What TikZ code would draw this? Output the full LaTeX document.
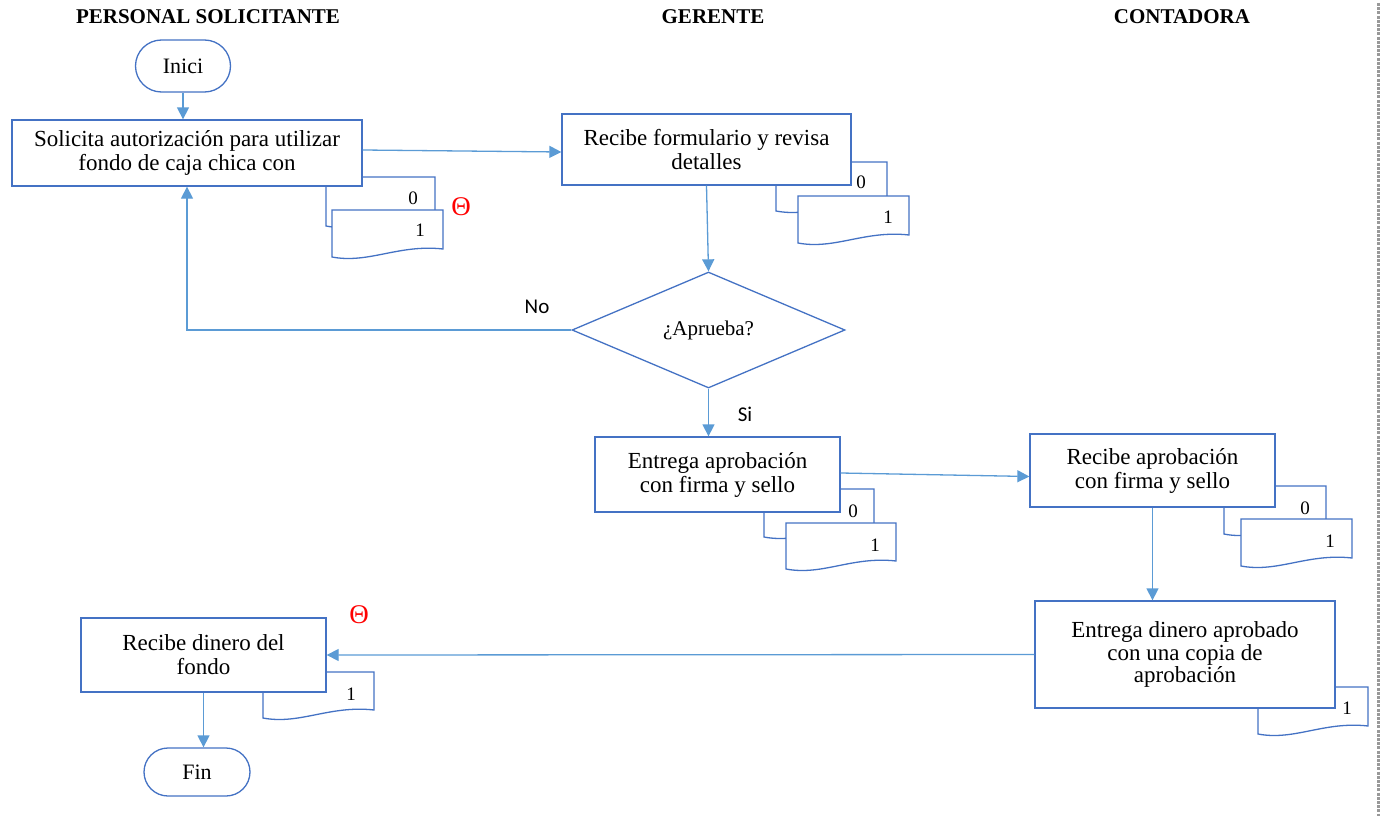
\documentclass[tikz,border=0pt]{standalone}
\usepackage{fontspec}
\setmainfont{Liberation Serif}
\newfontfamily\calibri{Carlito}
\usetikzlibrary{arrows.meta,shapes.geometric}
\definecolor{boxblue}{HTML}{4472C4}
\definecolor{arrblue}{HTML}{5B9BD5}
\newcommand\docpath[4]{%
  \filldraw[docst] ({#1},{#2}) -- ({#3},{#2}) -- ({#3},{#4-8})
    .. controls ({#1+0.6*(#3-#1)},{#4-13}) and ({#1+0.33*(#3-#1)},{#4+7}) .. ({#1},{#4}) -- cycle;}
\tikzset{
  box/.style={draw=boxblue, line width=1.3pt, fill=white, inner sep=0pt, align=center,
    font=\fontsize{23}{24}\selectfont},
  term/.style={draw=boxblue, line width=1.3pt, fill=white, inner sep=0pt,
    font=\fontsize{22}{24}\selectfont},
  dec/.style={draw=boxblue, line width=1.3pt, fill=white, shape=diamond, inner sep=0pt,
    font=\fontsize{21}{24}\selectfont},
  docst/.style={draw=boxblue, line width=1.3pt, fill=white},
  num/.style={font=\fontsize{19}{20}\selectfont, inner sep=0pt},
  theta/.style={text=red, font=\fontsize{27}{28}\selectfont, inner sep=0pt},
  title/.style={font=\fontsize{21}{22}\selectfont\bfseries, inner sep=0pt},
  lab/.style={font=\calibri\fontsize{21}{22}\selectfont, inner sep=0pt},
  arr/.style={draw=arrblue, line width=1.3pt, -{Triangle[length=12pt,width=12pt]}},
}
\begin{document}
\begin{tikzpicture}[x=1pt,y=-1pt]
\useasboundingbox (0,0) rectangle (1387,816);

% titles
\node[title] (t1) at (208,17) {PERSONAL SOLICITANTE};
\node[title] (t2) at (713,17) {GERENTE};
\node[title] (t3) at (1182,17) {CONTADORA};

% lane divider
\draw[gray!80, line width=3pt, dash pattern=on 3pt off 1.2pt] (1378,3) -- (1378,816);

% start
\node[term, minimum width=95pt, minimum height=52pt, rounded corners=26pt] (ini) at (183,66) {Inici};

% box 1 group
\docpath{326}{177}{435}{226}
\node[box, minimum width=350pt, minimum height=66pt] (b1) at (187,153)
  {Solicita autorización para utilizar\\fondo de caja chica con};
\docpath{332}{210}{443}{257}
\node[num] (b1n0) at (413,198) {0};
\node[num] (b1n1) at (420,230) {1};
\node[theta] (b1th) at (461,207) {Θ};

% box 2 group (only the top of a red mark shows above the document)
\draw[red, line width=1pt] (860,163) arc[start angle=180, end angle=0, radius=5.5];
\docpath{776}{162}{887}{211}
\node[box, minimum width=289pt, minimum height=71pt] (b2) at (706.5,149.5)
  {Recibe formulario y revisa\\detalles};
\docpath{798}{196}{909}{243}
\node[num] (b2n0) at (861,182) {0};
\node[num] (b2n1) at (888,217) {1};

% decision
\node[dec, minimum width=273pt, minimum height=116pt] (dia) at (708.5,330) {¿Aprueba?};
\node[lab] (no) at (537,307) {No};
\node[lab] (si) at (745,414) {Si};

% box 3 group
\docpath{764}{489}{874}{537}
\node[box, minimum width=245pt, minimum height=75pt] (b3) at (717.5,474.5)
  {Entrega aprobación\\con firma y sello};
\docpath{786}{523}{896}{569}
\node[num] (b3n0) at (853,511) {0};
\node[num] (b3n1) at (875,545) {1};

% box 4 group
\docpath{1224}{486}{1326}{534}
\node[box, minimum width=245pt, minimum height=73pt] (b4) at (1152.5,470.5)
  {Recibe aprobación\\con firma y sello};
\docpath{1241}{519}{1352}{566}
\node[num] (b4n0) at (1305,508) {0};
\node[num] (b4n1) at (1330,541) {1};

% box 5 group
\docpath{1258}{687}{1368}{734}
\node[box, minimum width=300pt, minimum height=107pt, font=\fontsize{23}{22.5}\selectfont] (b5) at (1185,654.5)
  {Entrega dinero aprobado\\con una copia de\\aprobación};
\node[num] (b5n1) at (1347,708) {1};

% box 6 group
\docpath{263}{672}{374}{718}
\node[box, minimum width=245pt, minimum height=74pt] (b6) at (203.5,655)
  {Recibe dinero del\\fondo};
\node[num] (b6n1) at (351,694) {1};
\node[theta] (b6th) at (359,615) {Θ};

% end
\node[term, minimum width=106pt, minimum height=48pt, rounded corners=24pt] (fin) at (197,772) {Fin};

% connectors
\draw[arr] (ini.south) -- (ini.south |- b1.north);
\draw[arr] ([yshift=3pt]b1.east) -- ([yshift=-2.5pt]b2.west);
\draw[arr] (b2.south) -- (dia.north);
\draw[arr] (dia.west) -| (b1.south);
\draw[arr] (dia.south) -- (dia.south |- b3.north);
\draw[arr] ([yshift=1.5pt]b3.east) -- ([yshift=-6pt]b4.west);
\draw[arr] (b4.south) -- (b4.south |- b5.north);
\draw[arr] (b5.west) -- (b6.east);
\draw[arr] (b6.south) -- (b6.south |- fin.north);
\end{tikzpicture}
\end{document}
